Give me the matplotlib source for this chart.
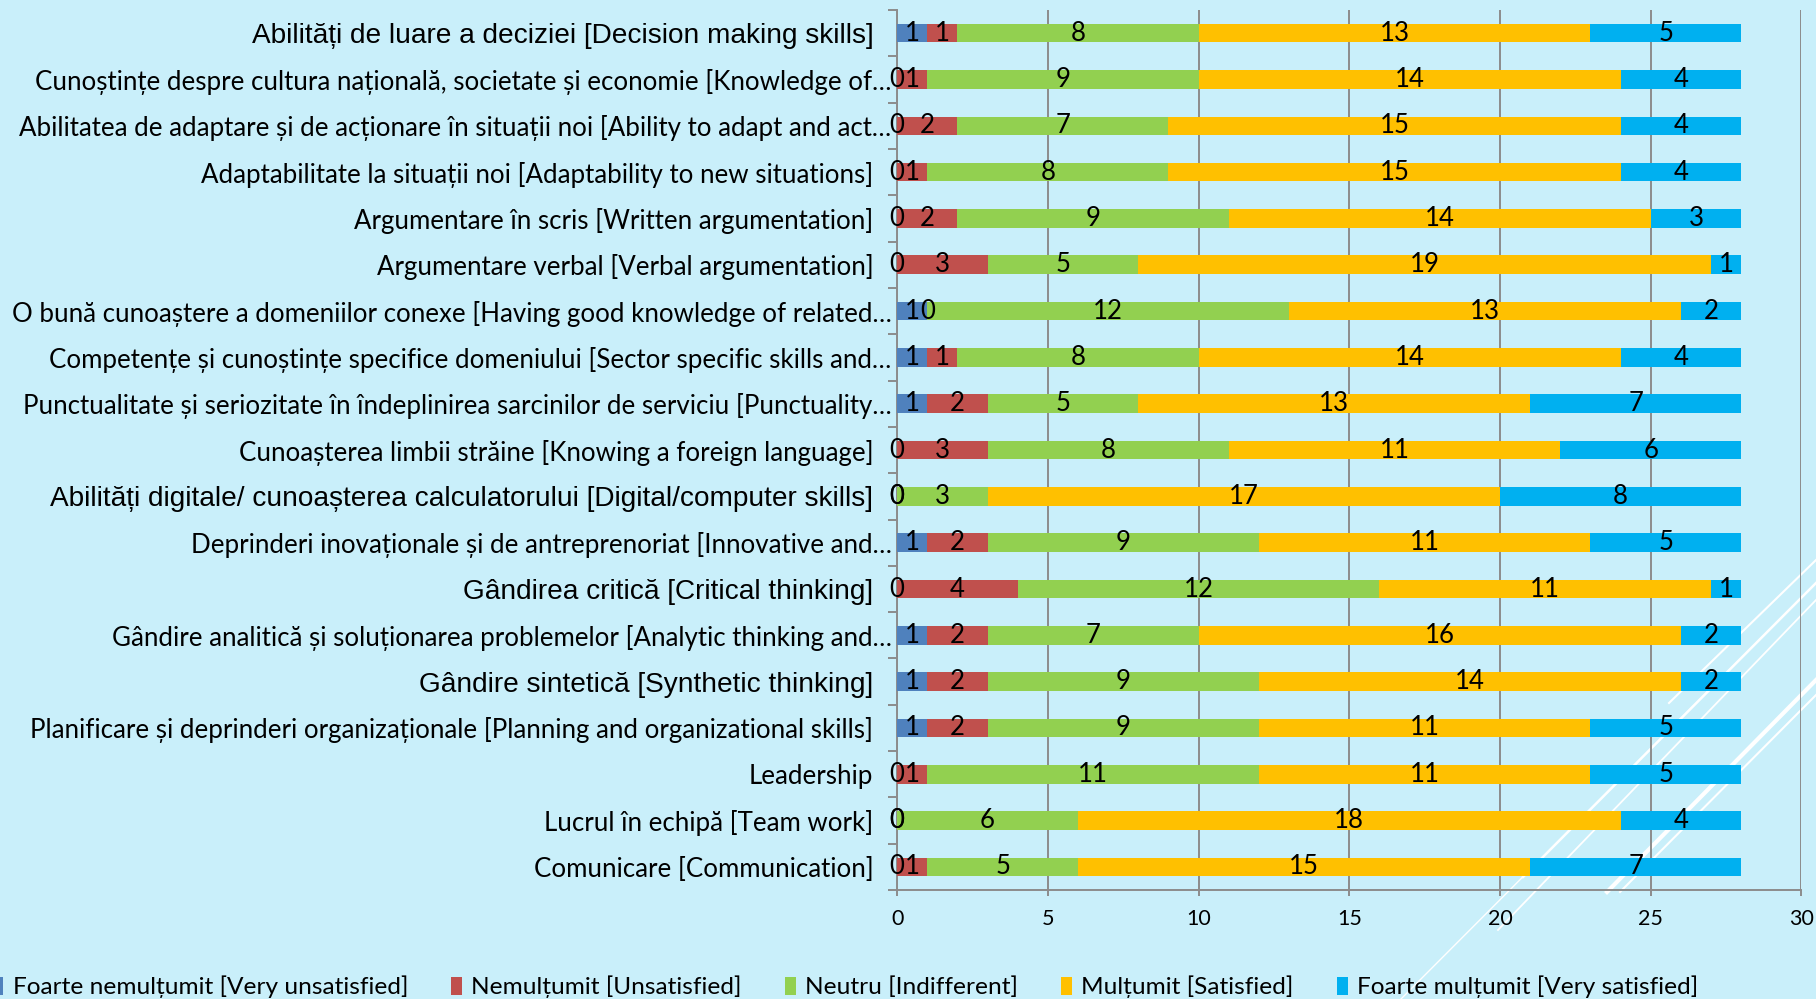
import matplotlib.pyplot as plt
import numpy as np
from matplotlib.lines import Line2D

categorii = [
    'Abilități de luare a deciziei [Decision making skills]',
    'Cunoștințe despre cultura națională, societate și economie [Knowledge of…',
    'Abilitatea de adaptare și de acționare în situații noi [Ability to adapt and act…',
    'Adaptabilitate la situații noi [Adaptability to new situations]',
    'Argumentare în scris [Written argumentation]',
    'Argumentare verbal [Verbal argumentation]',
    'O bună cunoaștere a domeniilor conexe [Having good knowledge of related…',
    'Competențe și cunoștințe specifice domeniului [Sector specific skills and…',
    'Punctualitate și seriozitate în îndeplinirea sarcinilor de serviciu [Punctuality…',
    'Cunoașterea limbii străine [Knowing a foreign language]',
    'Abilități digitale/ cunoașterea calculatorului [Digital/computer skills]',
    'Deprinderi inovaționale și de antreprenoriat [Innovative and…',
    'Gândirea critică [Critical thinking]',
    'Gândire analitică și soluționarea problemelor [Analytic thinking and…',
    'Gândire sintetică [Synthetic thinking]',
    'Planificare și deprinderi organizaționale [Planning and organizational skills]',
    'Leadership',
    'Lucrul în echipă [Team work]',
    'Comunicare [Communication]',
]

foarte_nemultumit = [1, 0, 0, 0, 0, 0, 1, 1, 1, 0, 0, 1, 0, 1, 1, 1, 0, 0, 0]
nemultumit = [1, 1, 2, 1, 2, 3, 0, 1, 2, 3, 0, 2, 4, 2, 2, 2, 1, 0, 1]
neutru = [8, 9, 7, 8, 9, 5, 12, 8, 5, 8, 3, 9, 12, 7, 9, 9, 11, 6, 5]
multumit = [13, 14, 15, 15, 14, 19, 13, 14, 13, 11, 17, 11, 11, 16, 14, 11, 11, 18, 15]
foarte_multumit = [5, 4, 4, 4, 3, 1, 2, 4, 7, 6, 8, 5, 1, 2, 2, 5, 5, 4, 7]

serii = [
    'Foarte nemulțumit [Very unsatisfied]',
    'Nemulțumit [Unsatisfied]',
    'Neutru [Indifferent]',
    'Mulțumit [Satisfied]',
    'Foarte mulțumit [Very satisfied]',
]
culori = ['#4F81BD', '#C0504D', '#92D050', '#FFC000', '#00B0F0']

# etichetele scrise cu alt font (Arial) in original
etichete_arial = [0, 10, 12, 14]

fond = '#C9EFFA'
gri = '#8C8C8C'
W, H = 1816, 999

fig = plt.figure(figsize=(W / 100, H / 100), dpi=100)
fig.patch.set_facecolor(fond)
ax = fig.add_axes([0.494, 0.109, 0.498, 0.881])
ax.patch.set_alpha(0)

# liniile albe decorative din colt
for (x0, y0, x1, y1, lw) in [(1401, 999, 1816, 583, 1.0), (1498, 930, 1816, 600, 1.3),
                             (1523, 877, 1816, 583, 1.8), (1607, 892, 1816, 680, 3.0),
                             (1620, 892, 1816, 695, 1.5), (1669, 703, 1816, 560, 1.5)]:
    fig.add_artist(Line2D([x0 / W, x1 / W], [1 - y0 / H, 1 - y1 / H],
                          color='white', lw=lw, zorder=-1))

y = np.arange(len(categorii))
stanga = np.zeros(len(categorii))
for valori, nume, culoare in zip([foarte_nemultumit, nemultumit, neutru, multumit, foarte_multumit],
                                 serii, culori):
    bare = ax.barh(y, valori, left=stanga, height=0.4, color=culoare, label=nume, zorder=3)
    ax.bar_label(bare, label_type='center', fontsize=18.5, fontfamily='Lato', color='black', zorder=4)
    stanga += np.array(valori)

ax.set_xlim(0, 30)
ax.set_ylim(len(categorii) - 0.5, -0.5)
ax.set_xticks(np.arange(0, 31, 5))
ax.grid(axis='x', color=gri, lw=1.4)
ax.set_axisbelow(True)

for s in ['top', 'right']:
    ax.spines[s].set_visible(False)
for s in ['left', 'bottom']:
    ax.spines[s].set_color(gri)
    ax.spines[s].set_linewidth(1.4)

ax.set_yticks(y)
ax.set_yticklabels(categorii)
ax.set_yticks(np.arange(-0.5, len(categorii)), minor=True)
ax.tick_params(axis='y', which='major', length=0)
ax.tick_params(axis='y', which='minor', length=6.5, width=1.4, color=gri)
ax.tick_params(axis='x', length=4.5, width=1.4, color=gri, pad=9, labelsize=15.5)
for lab in ax.get_xticklabels():
    lab.set_fontfamily('Lato')

for i, (tick, lab) in enumerate(zip(ax.yaxis.get_major_ticks(), ax.get_yticklabels())):
    # etichetele trunchiate ajung aproape de axa
    tick.set_pad(4 if categorii[i].endswith('…') else 17)
    if i in etichete_arial:
        lab.set_fontfamily(['Liberation Sans Narrow', 'Liberation Sans'])
        lab.set_fontsize(20.2)
    else:
        lab.set_fontfamily('Lato')
        lab.set_fontsize(18.6)

fig.legend(loc='center left', bbox_to_anchor=(-0.0044, 0.012), ncol=5, frameon=False,
           prop={'family': 'Lato', 'size': 17.6}, handlelength=0.47, handleheight=0.75,
           handletextpad=0.37, columnspacing=1.75, borderaxespad=0, borderpad=0)

fig.savefig('out.png', dpi=100, facecolor=fond)
